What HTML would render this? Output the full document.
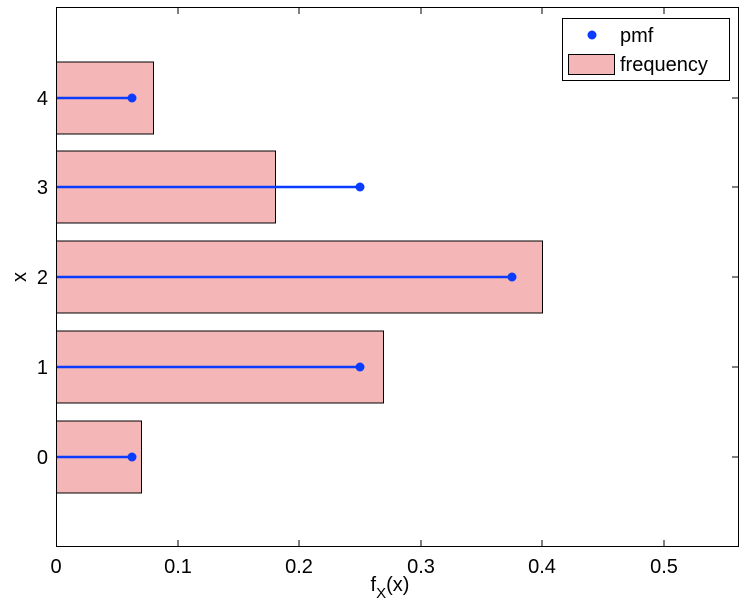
<!DOCTYPE html>
<html><head><style>body{margin:0;background:#fff}</style></head><body>
<svg width="748" height="610" xmlns="http://www.w3.org/2000/svg" font-family="Liberation Sans, sans-serif">
<rect width="748" height="610" fill="#fff"/>
<g fill="#f4b6b6" stroke="#000" stroke-width="1">
<rect x="56.5" y="421" width="85" height="72"/>
<rect x="56.5" y="331" width="327" height="72"/>
<rect x="56.5" y="241" width="486" height="72"/>
<rect x="56.5" y="151" width="219" height="72"/>
<rect x="56.5" y="62" width="97" height="72"/>
</g>
<g stroke="#0a3cff" stroke-width="2.5">
<line x1="56" y1="457" x2="132" y2="457"/>
<line x1="56" y1="367" x2="360" y2="367"/>
<line x1="56" y1="277" x2="512" y2="277"/>
<line x1="56" y1="187" x2="360" y2="187"/>
<line x1="56" y1="98" x2="132" y2="98"/>
</g>
<g fill="#0a3cff">
<circle cx="132" cy="457" r="4.5"/><circle cx="360" cy="367" r="4.5"/><circle cx="512" cy="277" r="4.5"/><circle cx="360" cy="187" r="4.5"/><circle cx="132" cy="98" r="4.5"/>
</g>
<rect x="56.5" y="7.5" width="682" height="539" fill="none" stroke="#000"/>
<g stroke="#000">
<line x1="178" y1="546" x2="178" y2="540"/><line x1="299" y1="546" x2="299" y2="540"/><line x1="421" y1="546" x2="421" y2="540"/><line x1="542" y1="546" x2="542" y2="540"/><line x1="664" y1="546" x2="664" y2="540"/>
<line x1="178" y1="8" x2="178" y2="14"/><line x1="299" y1="8" x2="299" y2="14"/><line x1="421" y1="8" x2="421" y2="14"/><line x1="542" y1="8" x2="542" y2="14"/><line x1="664" y1="8" x2="664" y2="14"/>
<line x1="732" y1="457" x2="738" y2="457"/><line x1="732" y1="367" x2="738" y2="367"/><line x1="732" y1="277" x2="738" y2="277"/><line x1="732" y1="187" x2="738" y2="187"/><line x1="732" y1="98" x2="738" y2="98"/>
</g>
<g font-size="20" text-anchor="middle">
<text x="56" y="573">0</text><text x="178" y="573">0.1</text><text x="299" y="573">0.2</text><text x="421" y="573">0.3</text><text x="542" y="573">0.4</text><text x="664" y="573">0.5</text>
</g>
<g font-size="20" text-anchor="end">
<text x="48" y="464">0</text><text x="48" y="374">1</text><text x="48" y="284">2</text><text x="48" y="194">3</text><text x="48" y="105">4</text>
</g>
<text x="20" y="277" font-size="20" text-anchor="middle" transform="rotate(-90 20 277)" dy="6">x</text>
<text x="390" y="591" font-size="20" text-anchor="middle">f<tspan font-size="15" dy="7">X</tspan><tspan dy="-7">(x)</tspan></text>
<rect x="562.5" y="18.5" width="167" height="62" fill="#fff" stroke="#000"/>
<circle cx="592" cy="35" r="4.5" fill="#0a3cff"/>
<text x="620" y="42" font-size="20">pmf</text>
<rect x="568.5" y="54.5" width="46" height="20" fill="#f4b6b6" stroke="#000"/>
<text x="620" y="71" font-size="20">frequency</text>
</svg>
</body></html>
